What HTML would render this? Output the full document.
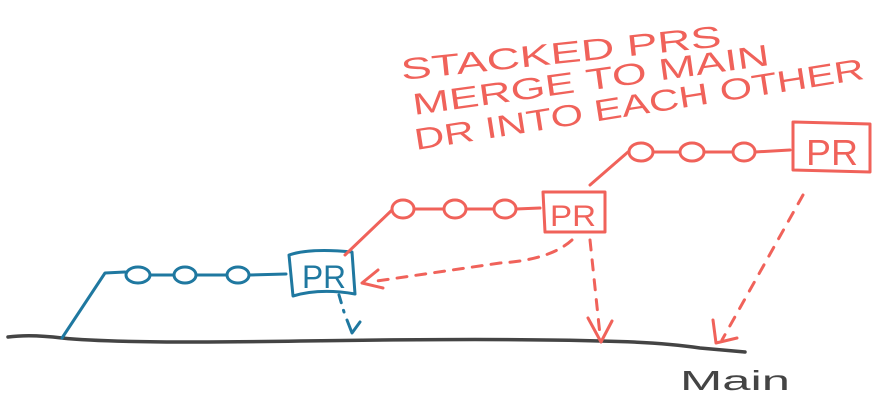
<!DOCTYPE html>
<html><head><meta charset="utf-8"><style>html,body{margin:0;padding:0;background:#fff}svg{display:block}</style></head>
<body>
<svg width="890" height="404" viewBox="0 0 890 404" xmlns="http://www.w3.org/2000/svg" font-family="Liberation Sans, sans-serif">
<g fill="none" stroke-linecap="round" stroke-linejoin="round">
<path d="M8,337 Q30,334 62,338 Q120,344 300,341 Q500,338 600,341 Q660,342 700,348 L745,352" stroke="#444" stroke-width="3.5"/>
<g stroke="#1f78a0" stroke-width="3">
<path d="M62,338 L105,273 L125,272"/>
<ellipse cx="138" cy="275" rx="12" ry="8"/>
<path d="M150,275 L173,275"/>
<ellipse cx="185" cy="275" rx="11" ry="8"/>
<path d="M196,275 L226,275"/>
<ellipse cx="238" cy="275" rx="11" ry="8"/>
<path d="M250,275 L286,274"/>
<path d="M289,255 Q310,248 352,252 L355,294 Q320,288 293,296 Z"/>
<path d="M339,295 L344,312" stroke-dasharray="8 8"/>
<path d="M347,320 L352,333 L360,322"/>
</g>
<text x="302" y="288" font-size="32" fill="#1f78a0" textLength="44" lengthAdjust="spacingAndGlyphs">PR</text>
<g stroke="#f0625a" stroke-width="3">
<path d="M345,255 L392,210"/>
<ellipse cx="403" cy="209" rx="11" ry="9"/>
<path d="M414,209 L444,209"/>
<ellipse cx="455" cy="209" rx="11" ry="9"/>
<path d="M466,209 L494,209"/>
<ellipse cx="505" cy="209" rx="11" ry="9"/>
<path d="M516,209 L540,208"/>
<path d="M543,192 L605,192 L605,232 L545,232 Z"/>
<path d="M572,240 Q550,260 500,263 L370,282" stroke-dasharray="10 9"/>
<path d="M378,270 L362,283 L383,288"/>
<path d="M590,240 L600,335" stroke-dasharray="10 10"/>
<path d="M588,318 L601,342 L612,321"/>
<path d="M590,185 L628,152"/>
<ellipse cx="641" cy="152" rx="12" ry="9"/>
<path d="M653,152 L680,152"/>
<ellipse cx="692" cy="152" rx="12" ry="9"/>
<path d="M704,152 L732,152"/>
<ellipse cx="744" cy="152" rx="11" ry="9"/>
<path d="M755,152 L790,150"/>
<path d="M794,122 L870,124 L870,172 L793,170 L793,122"/>
<path d="M803,195 L722,340" stroke-dasharray="10 10"/>
<path d="M713,320 L716,343 L737,338"/>
</g>
<text x="550" y="226" font-size="30" fill="#f0625a" textLength="46" lengthAdjust="spacingAndGlyphs">PR</text>
<text x="806" y="165" font-size="36" fill="#f0625a" textLength="52" lengthAdjust="spacingAndGlyphs">PR</text>
</g>
<g fill="#f0625a" font-size="30">
<text transform="translate(402,80) rotate(-6)" textLength="322" lengthAdjust="spacingAndGlyphs">STACKED PRS</text>
<text transform="translate(414,115) rotate(-8)" textLength="360" lengthAdjust="spacingAndGlyphs">MERGE TO MAIN</text>
<text transform="translate(416,150) rotate(-9)" textLength="455" lengthAdjust="spacingAndGlyphs">DR INTO EACH OTHER</text>
</g>
<text x="680" y="390" font-size="28" fill="#444" textLength="110" lengthAdjust="spacingAndGlyphs">Main</text>
</svg>
</body></html>
